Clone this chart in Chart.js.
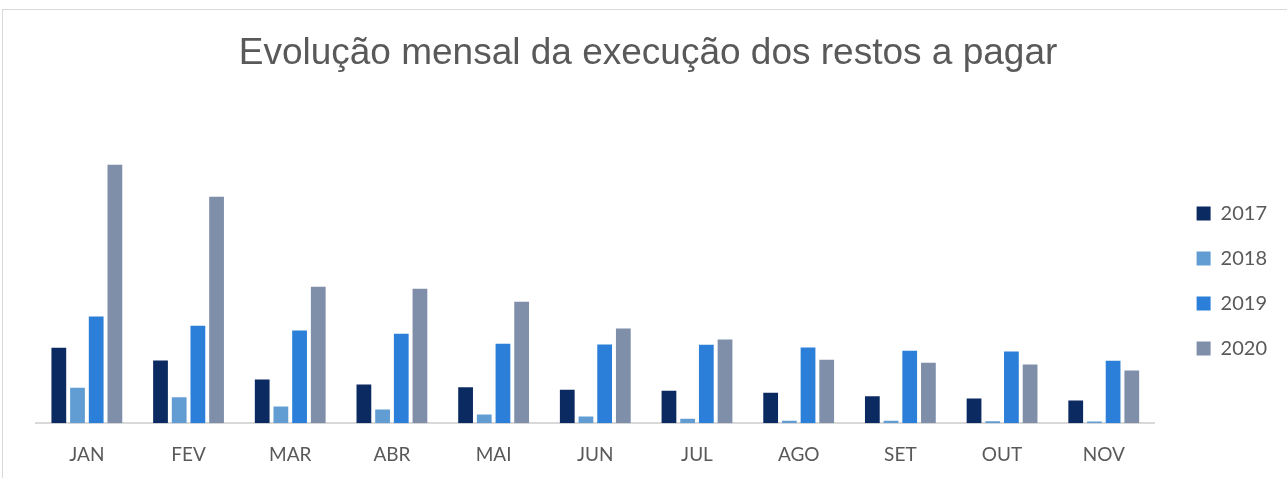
<!DOCTYPE html>
<html>
<head>
<meta charset="utf-8">
<script src="https://cdn.jsdelivr.net/npm/chart.js@4/dist/chart.umd.min.js"></script>
<style>
  html, body { margin: 0; padding: 0; background: #fff; overflow: hidden; }
  #frame { position: absolute; left: 2px; top: 9px; width: 1400px; height: 600px; border: 1px solid #d9d9d9; }
  #wrap { position: absolute; left: 0; top: 0; width: 1287px; height: 478px; }
</style>
</head>
<body>
<div id="frame"></div>
<div id="wrap"><canvas id="c" width="1287" height="478"></canvas></div>
<script>
const titleText = "Evolução mensal da execução dos restos a pagar";
const categories = ["JAN", "FEV", "MAR", "ABR", "MAI", "JUN", "JUL", "AGO", "SET", "OUT", "NOV"];
const seriesNames = ["2017", "2018", "2019", "2020"];
const values2017 = [75.4, 62.7, 43.7, 38.7, 36.0, 33.4, 32.4, 30.4, 27.0, 24.7, 22.7];
const values2018 = [35.4, 26.0, 16.7, 13.7, 8.7, 6.7, 4.4, 2.4, 2.4, 2.0, 1.7];
const values2019 = [106.7, 97.4, 92.7, 89.4, 79.4, 78.7, 78.4, 75.7, 72.4, 71.7, 62.4];
const values2020 = [258.4, 226.4, 136.4, 134.4, 121.4, 94.7, 83.7, 63.4, 60.4, 58.7, 52.7];
const colors = ["#0b2a62", "#619dd3", "#2b7fd8", "#7f8fa9"];

const allValues = [values2017, values2018, values2019, values2020];
const datasets = seriesNames.map((name, i) => ({
  label: name,
  data: allValues[i],
  backgroundColor: colors[i],
  borderColor: colors[i],
  borderWidth: 0,
  categoryPercentage: 0.735,
  barPercentage: 0.79
}));

// nudges the legend block to the spot it has in the reference
const legendNudge = {
  id: "legendNudge",
  afterLayout(chart) {
    const lg = chart.legend;
    if (!lg) return;
    const dx = 17, dy = 8;
    lg.left += dx; lg.right += dx;
    lg.top += dy; lg.bottom += dy;
  }
};

new Chart(document.getElementById("c"), {
  type: "bar",
  data: { labels: categories, datasets },
  plugins: [legendNudge],
  options: {
    responsive: false,
    animation: false,
    layout: { padding: { left: 36, right: 27, top: 0, bottom: -8 } },
    plugins: {
      title: {
        display: true,
        text: titleText,
        color: "#595959",
        font: { family: "'Liberation Sans', Arial, sans-serif", size: 37, weight: "normal" },
        padding: { top: 31.5, bottom: 47.1 }
      },
      legend: {
        position: "right",
        align: "center",
        fullSize: false,
        labels: {
          boxWidth: 14,
          boxHeight: 14,
          padding: 25,
          color: "#595959",
          font: { family: "Lato, 'Open Sans', sans-serif", size: 20 }
        }
      },
      tooltip: { enabled: false }
    },
    scales: {
      x: {
        grid: { display: false, drawTicks: false },
        border: { display: true, color: "#d9d9d9", width: 2 },
        ticks: { color: "#595959", padding: 20, font: { family: "Lato, 'Open Sans', sans-serif", size: 19 } }
      },
      y: {
        display: false,
        min: 0,
        max: 300
      }
    }
  }
});
</script>
</body>
</html>
